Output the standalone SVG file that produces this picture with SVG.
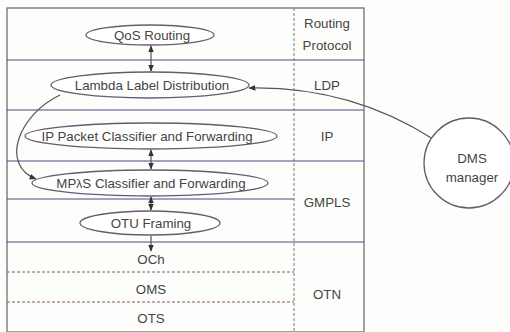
<svg xmlns="http://www.w3.org/2000/svg" width="510" height="332" viewBox="0 0 510 332">
  <style>
    text { font-family: "Liberation Sans", Arial, sans-serif; font-size: 13.3px; fill: #444; text-anchor: middle; }
    .frame { fill: none; stroke: #666; stroke-width: 1.2; }
    .layer { stroke: #4a4a80; stroke-width: 1.2; }
    .sub { stroke: #8a5a50; stroke-width: 1; stroke-dasharray: 3 2; }
    .divider { stroke: #777; stroke-width: 1; stroke-dasharray: 3 2; }
    .node { fill: #fff; stroke: #6a5a70; stroke-width: 1.3; }
    .link { fill: none; stroke: #555; stroke-width: 1.2; }
  </style>
  <defs>
    <marker id="arr" viewBox="0 0 10 10" refX="9" refY="5" markerWidth="6" markerHeight="6" orient="auto-start-reverse">
      <path d="M0,1 L10,5 L0,9 z" fill="#333"/>
    </marker>
  </defs>
  <rect width="510" height="332" fill="#fdfdfb"/>

  <!-- layer table -->
  <g id="table">
    <rect class="frame" x="7" y="8" width="357" height="324"/>
    <line class="layer" x1="7" y1="60" x2="364" y2="60"/>
    <line class="layer" x1="7" y1="110" x2="364" y2="110"/>
    <line class="layer" x1="7" y1="161" x2="364" y2="161"/>
    <line class="layer" x1="7" y1="199" x2="294" y2="199"/>
    <line class="layer" x1="7" y1="242" x2="364" y2="242"/>
    <line class="sub" x1="7" y1="272" x2="294" y2="272"/>
    <line class="sub" x1="7" y1="302" x2="294" y2="302"/>
    <line class="divider" x1="294" y1="8" x2="294" y2="332"/>
    <text x="327" y="28">Routing</text>
    <text x="327" y="50">Protocol</text>
    <text x="327" y="90">LDP</text>
    <text x="327" y="141">IP</text>
    <text x="327" y="207">GMPLS</text>
    <text x="327" y="299">OTN</text>
    <text x="151" y="264">OCh</text>
    <text x="151" y="294">OMS</text>
    <text x="151" y="323">OTS</text>
  </g>

  <!-- connectors -->
  <g id="connectors">
    <line class="link" x1="151" y1="46" x2="151" y2="71" marker-start="url(#arr)" marker-end="url(#arr)"/>
    <line class="link" x1="151" y1="150" x2="151" y2="169" marker-start="url(#arr)" marker-end="url(#arr)"/>
    <line class="link" x1="151" y1="197" x2="151" y2="210" marker-start="url(#arr)" marker-end="url(#arr)"/>
    <line class="link" x1="151" y1="236" x2="151" y2="251" marker-end="url(#arr)"/>
    <path class="link" d="M60,95 C18,115 0,165 36,179" marker-end="url(#arr)"/>
    <path class="link" d="M433,139 Q350,86 249,88" marker-end="url(#arr)"/>
  </g>

  <g id="qos">
    <ellipse class="node" cx="150" cy="35" rx="64" ry="10"/>
    <text x="152" y="40">QoS Routing</text>
  </g>
  <g id="lambda">
    <ellipse class="node" cx="150" cy="85" rx="99" ry="13"/>
    <text x="152" y="90">Lambda Label Distribution</text>
  </g>
  <g id="ip">
    <ellipse class="node" cx="151" cy="136" rx="126" ry="13"/>
    <text x="147" y="141">IP Packet Classifier and Forwarding</text>
  </g>
  <g id="mplambdas">
    <ellipse class="node" cx="150" cy="183" rx="118" ry="13"/>
    <text x="151" y="188">MP<tspan font-size="12">λ</tspan>S Classifier and Forwarding</text>
  </g>
  <g id="otu">
    <ellipse class="node" cx="150" cy="223" rx="70" ry="12"/>
    <text x="151" y="228">OTU Framing</text>
  </g>
  <g id="dms">
    <circle class="node" cx="469" cy="163" r="45" stroke="#666"/>
    <text x="472" y="163">DMS</text>
    <text x="472" y="182">manager</text>
  </g>
</svg>
